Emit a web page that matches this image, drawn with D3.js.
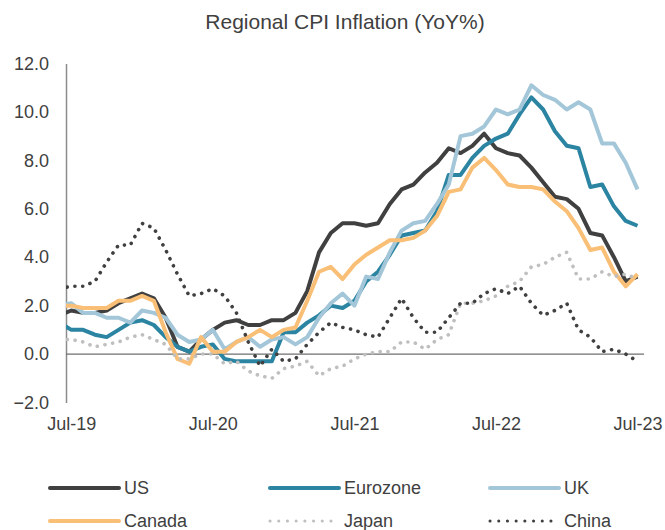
<!DOCTYPE html>
<html lang="en">
  <head>
    <meta charset="UTF-8" />
    <title>Regional CPI Inflation (YoY%)</title>
    <script src="https://d3js.org/d3.v7.min.js"></script>
    <style>
      body {
        margin: 0;
        background: #fff;
        font-family: "Liberation Sans", Arial, sans-serif;
      }
      svg text {
        fill: #404040;
      }
      .axis text {
        font-size: 18px;
      }
      .legend text {
        font-size: 18px;
      }
    </style>
  </head>
  <body>
    <svg id="chart" width="665" height="530"></svg>

    <script>
      // ---------------------------------------------------------------
      // DATA  (monthly YoY %, Jun-19 .. Jul-23)
      // ---------------------------------------------------------------
      const months = d3.timeMonths(new Date(2019, 5, 1), new Date(2023, 7, 1));

      const us = [
        1.6, 1.8, 1.7, 1.7, 1.8, 2.1, 2.3,
        2.5, 2.3, 1.5, 0.3, 0.1, 0.6, 1.0, 1.3, 1.4, 1.2, 1.2, 1.4,
        1.4, 1.7, 2.6, 4.2, 5.0, 5.4, 5.4, 5.3, 5.4, 6.2, 6.8, 7.0,
        7.5, 7.9, 8.5, 8.3, 8.6, 9.1, 8.5, 8.3, 8.2, 7.7, 7.1, 6.5,
        6.4, 6.0, 5.0, 4.9, 4.0, 3.0, 3.2,
      ];
      const eurozone = [
        1.3, 1.0, 1.0, 0.8, 0.7, 1.0, 1.3,
        1.4, 1.2, 0.7, 0.3, 0.1, 0.3, 0.4, -0.2, -0.3, -0.3, -0.3, -0.3,
        0.9, 0.9, 1.3, 1.6, 2.0, 1.9, 2.2, 3.0, 3.4, 4.1, 4.9, 5.0,
        5.1, 5.9, 7.4, 7.4, 8.1, 8.6, 8.9, 9.1, 9.9, 10.6, 10.1, 9.2,
        8.6, 8.5, 6.9, 7.0, 6.1, 5.5, 5.3,
      ];
      const uk = [
        2.0, 2.1, 1.7, 1.7, 1.5, 1.5, 1.3,
        1.8, 1.7, 1.5, 0.8, 0.5, 0.6, 1.0, 0.2, 0.5, 0.7, 0.3, 0.6,
        0.7, 0.4, 0.7, 1.5, 2.1, 2.5, 2.0, 3.2, 3.1, 4.2, 5.1, 5.4,
        5.5, 6.2, 7.0, 9.0, 9.1, 9.4, 10.1, 9.9, 10.1, 11.1, 10.7, 10.5,
        10.1, 10.4, 10.1, 8.7, 8.7, 7.9, 6.8,
      ];
      const canada = [
        2.0, 2.0, 1.9, 1.9, 1.9, 2.2, 2.2,
        2.4, 2.2, 0.9, -0.2, -0.4, 0.7, 0.1, 0.1, 0.5, 0.7, 1.0, 0.7,
        1.0, 1.1, 2.2, 3.4, 3.6, 3.1, 3.7, 4.1, 4.4, 4.7, 4.7, 4.8,
        5.1, 5.7, 6.7, 6.8, 7.7, 8.1, 7.6, 7.0, 6.9, 6.9, 6.8, 6.3,
        5.9, 5.2, 4.3, 4.4, 3.4, 2.8, 3.3,
      ];
      const japan = [
        0.6, 0.6, 0.5, 0.3, 0.4, 0.5, 0.7,
        0.8, 0.6, 0.4, -0.2, -0.2, 0.0, 0.0, -0.4, -0.3, -0.7, -0.9, -1.0,
        -0.6, -0.5, -0.3, -0.9, -0.6, -0.5, -0.2, 0.0, 0.1, 0.1, 0.5, 0.5,
        0.2, 0.6, 0.8, 2.1, 2.1, 2.2, 2.4, 2.8, 3.0, 3.6, 3.7, 4.0,
        4.2, 3.1, 3.1, 3.4, 3.2, 3.3, 3.1,
      ];
      const china = [
        2.7, 2.8, 2.8, 3.0, 3.8, 4.5, 4.5,
        5.4, 5.2, 4.3, 3.3, 2.4, 2.5, 2.7, 2.4, 1.7, 0.5, -0.5, 0.2,
        -0.3, -0.2, 0.4, 0.9, 1.3, 1.1, 1.0, 0.8, 0.7, 1.5, 2.3, 1.5,
        0.9, 0.9, 1.5, 2.1, 2.1, 2.5, 2.7, 2.5, 2.8, 2.1, 1.6, 1.8,
        2.1, 1.0, 0.7, 0.1, 0.2, 0.0, -0.3,
      ];

      const seriesNames = ["US", "Eurozone", "UK", "Canada", "Japan", "China"];
      const seriesValues = [us, eurozone, uk, canada, japan, china];
      const seriesColors = ["#404040", "#2b84a1", "#a3c7d9", "#f9bf76", "#bfbfbf", "#404040"];
      const seriesDotted = [false, false, false, false, true, true];

      const yTicks = [-2, 0, 2, 4, 6, 8, 10, 12];

      // ---------------------------------------------------------------
      // LAYOUT
      // ---------------------------------------------------------------
      const svg = d3.select("#chart");
      const plot = { left: 66, right: 644, top: 63.5, bottom: 402.5 };

      // month index -> x ; the plot starts a little after the first month
      const x = d3
        .scaleLinear()
        .domain([0.55, months.length - 1 + 0.55])
        .range([plot.left, plot.right]);

      const y = d3
        .scaleLinear()
        .domain([-2, 12])
        .range([plot.bottom, plot.top]);

      // Title
      svg
        .append("text")
        .attr("x", 345)
        .attr("y", 29)
        .attr("text-anchor", "middle")
        .style("font-size", "21px")
        .text("Regional CPI Inflation (YoY%)");

      // Y axis
      const yAxis = svg
        .append("g")
        .attr("class", "axis")
        .attr("transform", `translate(${plot.left},0)`)
        .call(
          d3
            .axisLeft(y)
            .tickValues(yTicks)
            .tickFormat(d3.format(".1f"))
            .tickSize(0)
            .tickSizeOuter(0)
            .tickPadding(17)
        );
      yAxis.select(".domain").attr("stroke", "#8c8c8c").attr("stroke-width", 1.5);
      yAxis.selectAll("text").attr("font-family", null);

      // X axis (labels only, at each July)
      const julyIdx = months.map((m, i) => i).filter((i) => months[i].getMonth() === 6);
      const xAxis = svg
        .append("g")
        .attr("class", "axis")
        .attr("transform", `translate(0,${plot.bottom})`)
        .call(
          d3
            .axisBottom(x)
            .tickValues(julyIdx)
            .tickFormat((i) => d3.timeFormat("%b-%y")(months[i]))
            .tickSize(0)
            .tickPadding(15)
        );
      xAxis.select(".domain").remove();
      xAxis.selectAll("text").attr("font-family", null);

      // Zero line
      svg
        .append("line")
        .attr("x1", plot.left)
        .attr("x2", plot.right)
        .attr("y1", y(0))
        .attr("y2", y(0))
        .attr("stroke", "#6f6f6f")
        .attr("stroke-width", 1.2);

      // Clip to the plot area
      svg
        .append("clipPath")
        .attr("id", "plotClip")
        .append("rect")
        .attr("x", plot.left)
        .attr("y", 0)
        .attr("width", plot.right - plot.left)
        .attr("height", 530);

      const line = d3
        .line()
        .x((d, i) => x(i))
        .y((d) => y(d));

      // Lines
      svg
        .append("g")
        .attr("clip-path", "url(#plotClip)")
        .selectAll("path")
        .data(seriesValues)
        .join("path")
        .attr("d", line)
        .attr("fill", "none")
        .attr("stroke", (d, i) => seriesColors[i])
        .attr("stroke-width", (d, i) => (seriesDotted[i] ? 3.6 : 4))
        .attr("stroke-linejoin", "round")
        .attr("stroke-linecap", (d, i) => (seriesDotted[i] ? "round" : "butt"))
        .attr("stroke-dasharray", (d, i) => (seriesDotted[i] ? "0.1 7.7" : null));

      // ---------------------------------------------------------------
      // LEGEND
      // ---------------------------------------------------------------
      const legendCols = [50, 270, 490];
      const legendRows = [488, 521];

      const legend = svg
        .append("g")
        .attr("class", "legend")
        .selectAll("g")
        .data(seriesNames)
        .join("g")
        .attr(
          "transform",
          (d, i) => `translate(${legendCols[i % 3]},${legendRows[Math.floor(i / 3)]})`
        );

      legend
        .append("line")
        .attr("x1", 0)
        .attr("x2", 69)
        .attr("stroke", (d, i) => seriesColors[i])
        .attr("stroke-width", (d, i) => (seriesDotted[i] ? 3 : 4))
        .attr("stroke-linecap", "round")
        .attr("stroke-dasharray", (d, i) => (seriesDotted[i] ? "0.1 8.6" : null));

      legend
        .append("text")
        .attr("x", 74)
        .attr("dy", "0.35em")
        .text((d) => d);
    </script>
  </body>
</html>
